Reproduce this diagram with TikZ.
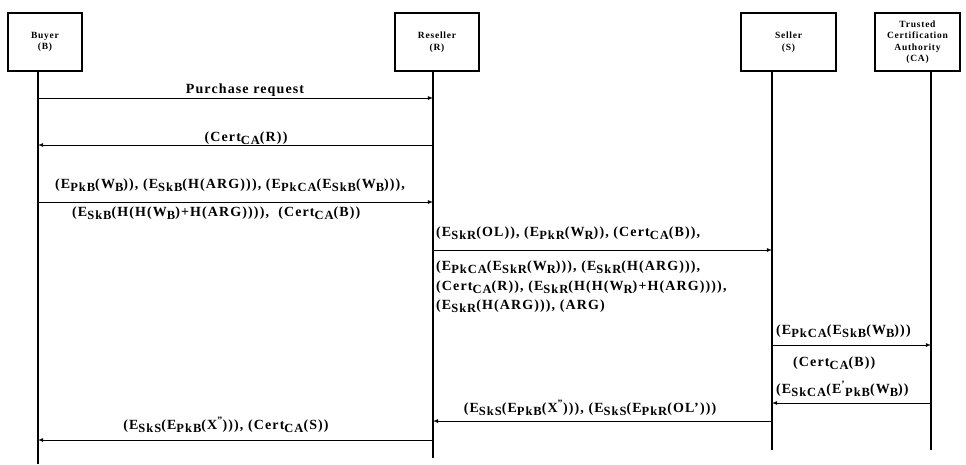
\documentclass[tikz,border=0pt]{standalone}
\usepackage{fontspec}
\setmainfont{Liberation Serif}[LetterSpace=8]
\newcommand{\lo}[1]{\raisebox{-0.5ex}{\fontsize{12.5}{12.5}\selectfont #1}}
\begin{document}
\begin{tikzpicture}[x=1pt,y=-1pt,
        actor/.style={rectangle,draw=black,line width=1.3pt,
          minimum width=#1,minimum height=58pt,inner sep=1pt,
          align=center,font=\fontsize{9.5}{11.5}\selectfont\bfseries},
        life/.style={line width=1.2pt},
        msg/.style={->,>=latex,line width=0.8pt},
        lbl/.style={inner sep=0pt,font=\fontsize{14}{16}\selectfont\bfseries}]
      \useasboundingbox (0,0) rectangle (966,464);
      \node (B) at (45,42) [actor=74pt] {Buyer\\(B)};
      \node (R) at (437,42) [actor=84pt] {Reseller\\(R)};
      \node (S) at (788.5,42) [actor=95pt] {Seller\\(S)};
      \node (CA) at (917.5,42) [actor=85pt] {Trusted\\Certification\\Authority\\(CA)};
      \coordinate (B0) at (38,71);  \coordinate (B9) at (38,464);
      \coordinate (R0) at (433,71); \coordinate (R9) at (433,458);
      \coordinate (S0) at (772,71); \coordinate (S9) at (772,450);
      \coordinate (CA0) at (931,71); \coordinate (CA9) at (931,450);
      \draw[life] (B0) -- (B9);
      \draw[life] (R0) -- (R9);
      \draw[life] (S0) -- (S9);
      \draw[life] (CA0) -- (CA9);
      \coordinate (B1) at (38,98);   \coordinate (R1) at (433,98);
      \coordinate (B2) at (38,145);  \coordinate (R2) at (433,145);
      \coordinate (B3) at (38,202);  \coordinate (R3) at (433,202);
      \coordinate (R4) at (433,250); \coordinate (S4) at (772,250);
      \coordinate (S5) at (772,345); \coordinate (CA5) at (931,345);
      \coordinate (S6) at (772,403); \coordinate (CA6) at (931,403);
      \coordinate (S7) at (772,421); \coordinate (R7) at (433,421);
      \coordinate (R8) at (433,440); \coordinate (B8) at (38,440);
      \draw (B1) edge[msg] (R1);
      \draw (R2) edge[msg] (B2);
      \draw (B3) edge[msg] (R3);
      \draw (R4) edge[msg] (S4);
      \draw (S5) edge[msg] (CA5);
      \draw (CA6) edge[msg] (S6);
      \draw (S7) edge[msg] (R7);
      \draw (R8) edge[msg] (B8);
      \node (m1) at (245,90) [lbl] {Purchase request};
      \node (m2) at (246,138) [lbl] {(Cert\lo{CA}(R))};
      \node (m3a) at (55,185) [lbl,anchor=west] {(E\lo{PkB}(W\lo{B})), (E\lo{SkB}(H(ARG))), (E\lo{PkCA}(E\lo{SkB}(W\lo{B}))),};
      \node (m3b) at (72,213) [lbl,anchor=west] {(E\lo{SkB}(H(H(W\lo{B})+H(ARG)))),\ \ (Cert\lo{CA}(B))};
      \node (m4a) at (436,233) [lbl,anchor=west] {(E\lo{SkR}(OL)), (E\lo{PkR}(W\lo{R})), (Cert\lo{CA}(B)),};
      \node (m4b) at (436,267) [lbl,anchor=west] {(E\lo{PkCA}(E\lo{SkR}(W\lo{R}))), (E\lo{SkR}(H(ARG))),};
      \node (m4c) at (436,287) [lbl,anchor=west] {(Cert\lo{CA}(R)), (E\lo{SkR}(H(H(W\lo{R})+H(ARG)))),};
      \node (m4d) at (436,306) [lbl,anchor=west] {(E\lo{SkR}(H(ARG))), (ARG)};
      \node (m5a) at (776,331) [lbl,anchor=west] {(E\lo{PkCA}(E\lo{SkB}(W\lo{B})))};
      \node (m5b) at (793,363) [lbl,anchor=west] {(Cert\lo{CA}(B))};
      \node (m6) at (776,389) [lbl,anchor=west] {(E\lo{SkCA}(E\textsuperscript{'}\lo{PkB}(W\lo{B}))};
      \node (m7) at (590,408) [lbl] {(E\lo{SkS}(E\lo{PkB}(X\textsuperscript{''}))), (E\lo{SkS}(E\lo{PkR}(OL')))};
      \node (m8) at (226,425) [lbl] {(E\lo{SkS}(E\lo{PkB}(X\textsuperscript{''}))), (Cert\lo{CA}(S))};
\end{tikzpicture}
\end{document}
